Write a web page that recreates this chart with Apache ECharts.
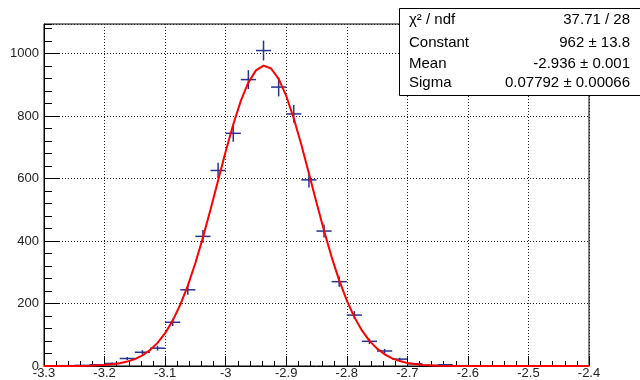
<!DOCTYPE html>
<html>
<head>
<meta charset="utf-8">
<script src="https://cdn.jsdelivr.net/npm/echarts@6/dist/echarts.min.js"></script>
<style>
  html, body { margin: 0; padding: 0; background: #fff; }
  #chart { width: 640px; height: 380px; }
</style>
</head>
<body>
<div id="chart"></div>
<script>
// ---- Data ----
// Histogram bin centres (bin width 0.025) and contents
const binCenters = [-3.2625, -3.2375, -3.2125, -3.1875, -3.1625, -3.1375, -3.1125, -3.0875, -3.0625,
  -3.0375, -3.0125, -2.9875, -2.9625, -2.9375, -2.9125, -2.8875, -2.8625, -2.8375, -2.8125,
  -2.7875, -2.7625, -2.7375, -2.7125, -2.6875, -2.6625, -2.6375, -2.6125, -2.5875];
const binCounts = [1, 2, 4, 8, 24, 44, 57, 140, 244,
  415, 626, 745, 917, 1010, 893, 807, 596, 432, 270,
  163, 79, 48, 22, 7, 2, 4, 1, 1];
const binHalfWidth = 0.0125;

// Fitted gaussian curve, sampled along x
const fitX = [-3.3, -3.275, -3.25, -3.225, -3.2, -3.1875, -3.175, -3.1625, -3.15, -3.1375, -3.125, -3.1125,
  -3.1, -3.0875, -3.075, -3.0625, -3.05, -3.0375, -3.025, -3.0125, -3.0, -2.9875, -2.975, -2.9625,
  -2.95, -2.9375, -2.925, -2.9125, -2.9, -2.8875, -2.875, -2.8625, -2.85, -2.8375, -2.825, -2.8125,
  -2.8, -2.7875, -2.775, -2.7625, -2.75, -2.7375, -2.725, -2.7125, -2.7, -2.675, -2.65, -2.6, -2.5, -2.4];
const fitY = [0, 0.1, 0.3, 1.0, 3.1, 5.3, 8.7, 14.1, 22.1, 34.0, 50.8, 74.0,
  105.1, 145.3, 196.0, 257.5, 329.9, 411.8, 501.0, 594.1, 686.6, 773.3, 848.7, 907.9,
  946.6, 961.8, 952.5, 919.2, 864.6, 792.6, 708.1, 616.5, 523.2, 432.7, 348.7, 274.0,
  209.8, 156.5, 113.8, 80.6, 55.7, 37.5, 24.6, 15.7, 9.8, 3.5, 1.1, 0.1, 0, 0];

// Axis settings
const xMin = -3.3, xMax = -2.4, xStep = 0.1;
const yMin = 0, yMax = 1095, yStep = 200, yMinorStep = 40;

// Statistics box
const statLabels = ['χ² / ndf', 'Constant', 'Mean', 'Sigma'];
const statValues = ['37.71 / 28', '962 ± 13.8', '-2.936 ± 0.001', '0.07792 ± 0.00066'];

// ---- Chart ----
const FONT = '"Liberation Sans", Arial, Helvetica, sans-serif';
const chart = echarts.init(document.getElementById('chart'), null, { renderer: 'canvas' });

const gridDots = { color: '#222', width: 1, type: [1, 2] };

const statRowsY = [20, 43, 64, 83];
const statGraphics = [
  { type: 'rect', shape: { x: 399.5, y: 8.5, width: 260, height: 87 },
    style: { fill: '#fff', stroke: '#000', lineWidth: 1 }, z: 100 }
];
statLabels.forEach((t, i) => {
  statGraphics.push({ type: 'text', x: 409, y: statRowsY[i], z: 101,
    style: { text: t, font: '15px ' + FONT, fill: '#000', textAlign: 'left', textVerticalAlign: 'middle' } });
  statGraphics.push({ type: 'text', x: 630, y: statRowsY[i], z: 101,
    style: { text: statValues[i], font: '15px ' + FONT, fill: '#000', textAlign: 'right', textVerticalAlign: 'middle' } });
});

const option = {
  animation: false,
  backgroundColor: '#fff',
  grid: {
    left: 44, right: 51, top: 24, bottom: 14,
    show: true, borderColor: '#000', borderWidth: 1, backgroundColor: 'transparent',
    outerBoundsMode: 'none'
  },
  xAxis: {
    type: 'value', min: xMin, max: xMax, interval: xStep,
    axisLine: { show: true, onZero: false, lineStyle: { color: '#000', width: 1 } },
    axisTick: { show: true, inside: true, length: 10, lineStyle: { color: '#000' } },
    minorTick: { show: true, splitNumber: 5, length: 5, lineStyle: { color: '#000' } },
    splitLine: { show: true, lineStyle: gridDots },
    minorSplitLine: { show: false },
    axisLabel: {
      color: '#222', fontSize: 13, fontFamily: FONT, margin: 1,
      showMinLabel: true, showMaxLabel: true,
      formatter: v => String(parseFloat(v.toFixed(2)))
    }
  },
  yAxis: [{
    type: 'value', min: yMin, max: yMax, interval: yStep,
    axisLine: { show: true, onZero: false, lineStyle: { color: '#000', width: 1 } },
    axisTick: { show: true, inside: true, length: 16, lineStyle: { color: '#000' } },
    splitLine: { show: true, lineStyle: gridDots },
    axisLabel: { color: '#222', fontSize: 13, fontFamily: FONT, margin: 5, showMaxLabel: false,
      formatter: v => String(Math.round(v)) }
  }, {
    type: 'value', min: yMin, max: yMax, interval: yMinorStep, position: 'left', offset: 0,
    axisLine: { show: false },
    axisTick: { show: true, inside: true, length: 8, lineStyle: { color: '#000' } },
    splitLine: { show: false },
    axisLabel: { show: false }
  }],
  series: [{
    type: 'custom',
    name: 'hist',
    xAxisIndex: 0, yAxisIndex: 0,
    data: binCenters.map((c, i) => [c, binCounts[i]]),
    clip: true,
    z: 2,
    renderItem: (params, api) => {
      const x = api.value(0), y = api.value(1);
      const e = Math.sqrt(y);
      const pL = api.coord([x - binHalfWidth, y]);
      const pR = api.coord([x + binHalfWidth, y]);
      const pT = api.coord([x, y + e]);
      const pB = api.coord([x, Math.max(0, y - e)]);
      const st = { stroke: '#26338f', lineWidth: 1.5 };
      return { type: 'group', children: [
        { type: 'line', shape: { x1: pL[0], y1: pL[1], x2: pR[0], y2: pR[1] }, style: st },
        { type: 'line', shape: { x1: pT[0], y1: pT[1], x2: pB[0], y2: pB[1] }, style: st }
      ]};
    }
  }, {
    type: 'line',
    name: 'fit',
    xAxisIndex: 0, yAxisIndex: 0,
    data: fitX.map((x, i) => [x, fitY[i]]),
    showSymbol: false, symbol: 'none', smooth: false,
    lineStyle: { color: '#ff0000', width: 2 },
    clip: true,
    z: 3
  }],
  graphic: statGraphics
};
chart.setOption(option);
</script>
</body>
</html>
